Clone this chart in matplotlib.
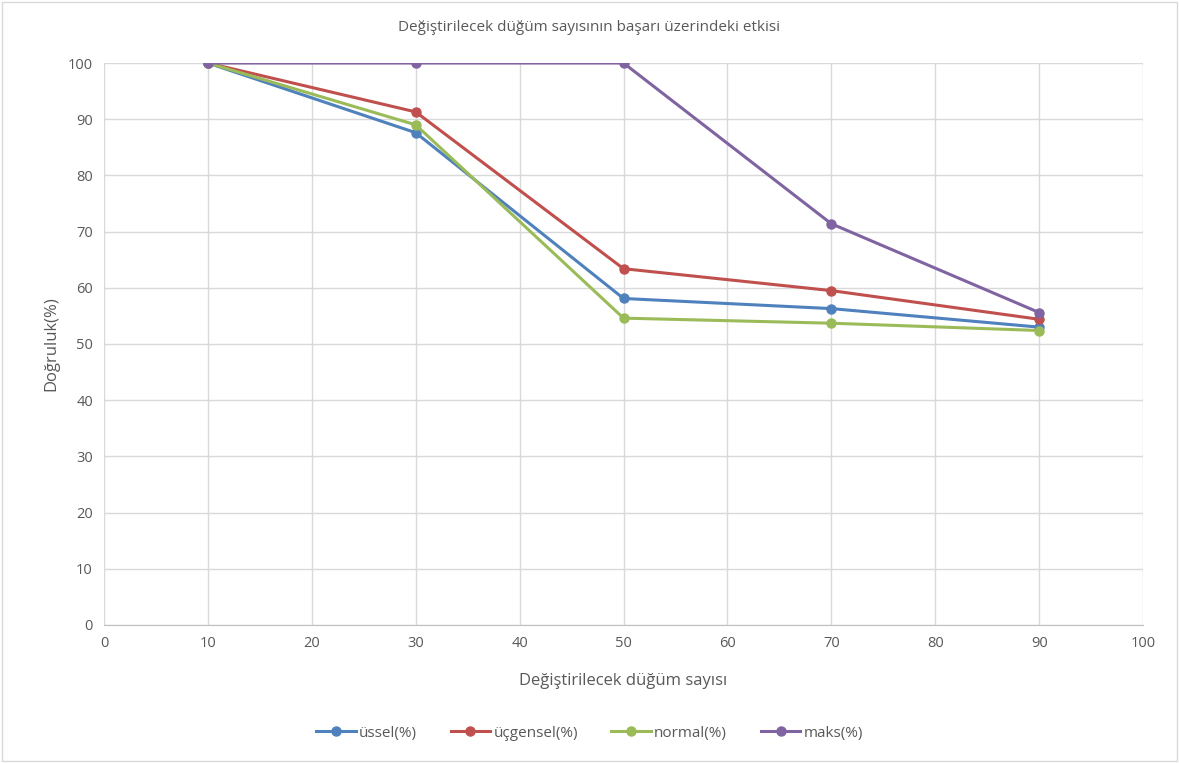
import matplotlib.pyplot as plt
from matplotlib.patches import Rectangle

plt.rcParams['font.family'] = ['Open Sans', 'DejaVu Sans']

# Data
dugum = [10, 30, 50, 70, 90]
ussel = [100, 87.6, 58.1, 56.3, 53.0]
ucgensel = [100, 91.3, 63.4, 59.5, 54.4]
normal = [100, 89.0, 54.6, 53.7, 52.4]
maks = [100, 100, 100, 71.4, 55.6]

series = [
    ("üssel(%)", ussel, "#4F81BD"),
    ("üçgensel(%)", ucgensel, "#C0504D"),
    ("normal(%)", normal, "#9BBB59"),
    ("maks(%)", maks, "#8064A2"),
]

txt = "#595959"
fig = plt.figure(figsize=(11.79, 7.63), dpi=100)
ax = fig.add_axes([0.0882, 0.1809, 0.8813, 0.7365])

for label, vals, col in series:
    ax.plot(dugum, vals, color=col, lw=2.2, marker="o", ms=6.5, label=label)

ax.set_xlim(0, 100)
ax.set_ylim(0, 100)
ax.set_xticks(range(0, 101, 10))
ax.set_yticks(range(0, 101, 10))
ax.grid(True, color="#D9D9D9", lw=1)
ax.set_axisbelow(True)
for s in ["top", "right", "left"]:
    ax.spines[s].set_visible(False)
ax.spines["bottom"].set_color("#BFBFBF")
ax.tick_params(length=0, labelsize=10.5, colors=txt, pad=8)

ax.set_xlabel("Değiştirilecek düğüm sayısı", fontsize=12, color=txt, labelpad=16)
ax.set_ylabel("Doğruluk(%)", fontsize=12, color=txt, labelpad=6)
fig.text(0.5, 0.964, "Değiştirilecek düğüm sayısının başarı üzerindeki etkisi",
         ha="center", va="center", fontsize=11, color=txt)

fig.legend(loc="center", bbox_to_anchor=(0.5, 0.039), ncol=4, frameon=False,
           fontsize=11, labelcolor=txt, handlelength=2.6, handletextpad=0.2,
           columnspacing=2.2)

fig.add_artist(Rectangle((0.002, 0.003), 0.996, 0.994, transform=fig.transFigure,
                         fill=False, edgecolor="#D9D9D9", lw=1))

fig.savefig("out.png", dpi=100)
